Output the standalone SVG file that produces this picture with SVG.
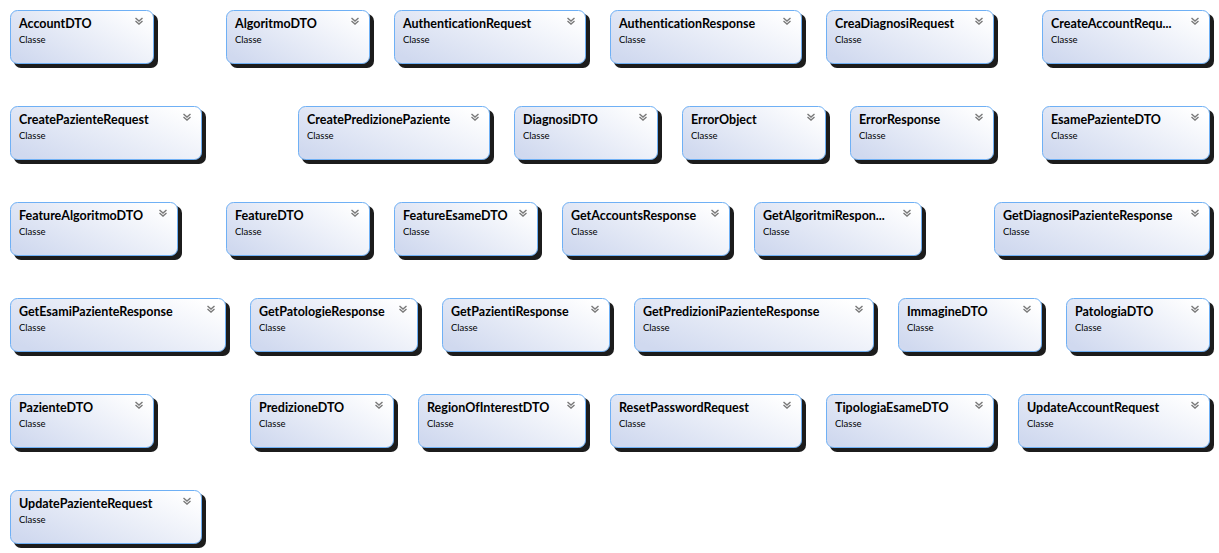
<svg xmlns="http://www.w3.org/2000/svg" xmlns:xlink="http://www.w3.org/1999/xlink" width="1219" height="553" viewBox="0 0 1219 553">
<style>
.sh{fill:#1c1c1c}
.bx{fill:url(#g);stroke:#6fb0f5;stroke-width:1}
.t{font-family:Lato,"Open Sans","DejaVu Sans",sans-serif;font-weight:bold;font-size:12.5px;fill:#000;font-variant-ligatures:none;font-feature-settings:"liga" 0,"dlig" 0}
.s{font-family:Lato,"Open Sans","DejaVu Sans",sans-serif;font-size:9.5px;fill:#000;font-variant-ligatures:none}
.ch{fill:none;stroke:#7a7a7a;stroke-width:1.4}
</style>
<defs>
<linearGradient id="g" x1="0" y1="0.8" x2="1" y2="0.2">
<stop offset="0" stop-color="#d0d9ef"/>
<stop offset="1" stop-color="#ffffff"/>
</linearGradient>
<g id="chev">
<polyline class="ch" points="-3.5,0 0,3 3.5,0"/>
<polyline class="ch" points="-3.5,3 0,6 3.5,3"/>
</g>
</defs>
<rect width="1219" height="553" fill="#ffffff"/>
<g id="connectors"></g>

<!-- Row 1 -->
<g id="AccountDTO" transform="translate(10,10)"><rect class="sh" x="4" y="4" width="144" height="54" rx="7"/><rect class="bx" x="0.5" y="0.5" width="143" height="53" rx="7"/><text class="t" x="9" y="18">AccountDTO</text><text class="s" x="9" y="33">Classe</text><use xlink:href="#chev" x="129" y="8"/></g>
<g id="AlgoritmoDTO" transform="translate(226,10)"><rect class="sh" x="4" y="4" width="144" height="54" rx="7"/><rect class="bx" x="0.5" y="0.5" width="143" height="53" rx="7"/><text class="t" x="9" y="18">AlgoritmoDTO</text><text class="s" x="9" y="33">Classe</text><use xlink:href="#chev" x="129" y="8"/></g>
<g id="AuthenticationRequest" transform="translate(394,10)"><rect class="sh" x="4" y="4" width="192" height="54" rx="7"/><rect class="bx" x="0.5" y="0.5" width="191" height="53" rx="7"/><text class="t" x="9" y="18">AuthenticationRequest</text><text class="s" x="9" y="33">Classe</text><use xlink:href="#chev" x="177" y="8"/></g>
<g id="AuthenticationResponse" transform="translate(610,10)"><rect class="sh" x="4" y="4" width="192" height="54" rx="7"/><rect class="bx" x="0.5" y="0.5" width="191" height="53" rx="7"/><text class="t" x="9" y="18">AuthenticationResponse</text><text class="s" x="9" y="33">Classe</text><use xlink:href="#chev" x="177" y="8"/></g>
<g id="CreaDiagnosiRequest" transform="translate(826,10)"><rect class="sh" x="4" y="4" width="168" height="54" rx="7"/><rect class="bx" x="0.5" y="0.5" width="167" height="53" rx="7"/><text class="t" x="9" y="18">CreaDiagnosiRequest</text><text class="s" x="9" y="33">Classe</text><use xlink:href="#chev" x="153" y="8"/></g>
<g id="CreateAccountRequest" transform="translate(1042,10)"><rect class="sh" x="4" y="4" width="168" height="54" rx="7"/><rect class="bx" x="0.5" y="0.5" width="167" height="53" rx="7"/><text class="t" x="9" y="18">CreateAccountRequ...</text><text class="s" x="9" y="33">Classe</text><use xlink:href="#chev" x="153" y="8"/></g>

<!-- Row 2 -->
<g id="CreatePazienteRequest" transform="translate(10,106)"><rect class="sh" x="4" y="4" width="192" height="54" rx="7"/><rect class="bx" x="0.5" y="0.5" width="191" height="53" rx="7"/><text class="t" x="9" y="18">CreatePazienteRequest</text><text class="s" x="9" y="33">Classe</text><use xlink:href="#chev" x="177" y="8"/></g>
<g id="CreatePredizionePaziente" transform="translate(298,106)"><rect class="sh" x="4" y="4" width="192" height="54" rx="7"/><rect class="bx" x="0.5" y="0.5" width="191" height="53" rx="7"/><text class="t" x="9" y="18">CreatePredizionePaziente</text><text class="s" x="9" y="33">Classe</text><use xlink:href="#chev" x="177" y="8"/></g>
<g id="DiagnosiDTO" transform="translate(514,106)"><rect class="sh" x="4" y="4" width="144" height="54" rx="7"/><rect class="bx" x="0.5" y="0.5" width="143" height="53" rx="7"/><text class="t" x="9" y="18">DiagnosiDTO</text><text class="s" x="9" y="33">Classe</text><use xlink:href="#chev" x="129" y="8"/></g>
<g id="ErrorObject" transform="translate(682,106)"><rect class="sh" x="4" y="4" width="144" height="54" rx="7"/><rect class="bx" x="0.5" y="0.5" width="143" height="53" rx="7"/><text class="t" x="9" y="18">ErrorObject</text><text class="s" x="9" y="33">Classe</text><use xlink:href="#chev" x="129" y="8"/></g>
<g id="ErrorResponse" transform="translate(850,106)"><rect class="sh" x="4" y="4" width="144" height="54" rx="7"/><rect class="bx" x="0.5" y="0.5" width="143" height="53" rx="7"/><text class="t" x="9" y="18">ErrorResponse</text><text class="s" x="9" y="33">Classe</text><use xlink:href="#chev" x="129" y="8"/></g>
<g id="EsamePazienteDTO" transform="translate(1042,106)"><rect class="sh" x="4" y="4" width="168" height="54" rx="7"/><rect class="bx" x="0.5" y="0.5" width="167" height="53" rx="7"/><text class="t" x="9" y="18">EsamePazienteDTO</text><text class="s" x="9" y="33">Classe</text><use xlink:href="#chev" x="153" y="8"/></g>

<!-- Row 3 -->
<g id="FeatureAlgoritmoDTO" transform="translate(10,202)"><rect class="sh" x="4" y="4" width="168" height="54" rx="7"/><rect class="bx" x="0.5" y="0.5" width="167" height="53" rx="7"/><text class="t" x="9" y="18">FeatureAlgoritmoDTO</text><text class="s" x="9" y="33">Classe</text><use xlink:href="#chev" x="153" y="8"/></g>
<g id="FeatureDTO" transform="translate(226,202)"><rect class="sh" x="4" y="4" width="144" height="54" rx="7"/><rect class="bx" x="0.5" y="0.5" width="143" height="53" rx="7"/><text class="t" x="9" y="18">FeatureDTO</text><text class="s" x="9" y="33">Classe</text><use xlink:href="#chev" x="129" y="8"/></g>
<g id="FeatureEsameDTO" transform="translate(394,202)"><rect class="sh" x="4" y="4" width="144" height="54" rx="7"/><rect class="bx" x="0.5" y="0.5" width="143" height="53" rx="7"/><text class="t" x="9" y="18">FeatureEsameDTO</text><text class="s" x="9" y="33">Classe</text><use xlink:href="#chev" x="129" y="8"/></g>
<g id="GetAccountsResponse" transform="translate(562,202)"><rect class="sh" x="4" y="4" width="168" height="54" rx="7"/><rect class="bx" x="0.5" y="0.5" width="167" height="53" rx="7"/><text class="t" x="9" y="18">GetAccountsResponse</text><text class="s" x="9" y="33">Classe</text><use xlink:href="#chev" x="153" y="8"/></g>
<g id="GetAlgoritmiResponse" transform="translate(754,202)"><rect class="sh" x="4" y="4" width="168" height="54" rx="7"/><rect class="bx" x="0.5" y="0.5" width="167" height="53" rx="7"/><text class="t" x="9" y="18">GetAlgoritmiRespon...</text><text class="s" x="9" y="33">Classe</text><use xlink:href="#chev" x="153" y="8"/></g>
<g id="GetDiagnosiPazienteResponse" transform="translate(994,202)"><rect class="sh" x="4" y="4" width="216" height="54" rx="7"/><rect class="bx" x="0.5" y="0.5" width="215" height="53" rx="7"/><text class="t" x="9" y="18">GetDiagnosiPazienteResponse</text><text class="s" x="9" y="33">Classe</text><use xlink:href="#chev" x="201" y="8"/></g>

<!-- Row 4 -->
<g id="GetEsamiPazienteResponse" transform="translate(10,298)"><rect class="sh" x="4" y="4" width="216" height="54" rx="7"/><rect class="bx" x="0.5" y="0.5" width="215" height="53" rx="7"/><text class="t" x="9" y="18">GetEsamiPazienteResponse</text><text class="s" x="9" y="33">Classe</text><use xlink:href="#chev" x="201" y="8"/></g>
<g id="GetPatologieResponse" transform="translate(250,298)"><rect class="sh" x="4" y="4" width="168" height="54" rx="7"/><rect class="bx" x="0.5" y="0.5" width="167" height="53" rx="7"/><text class="t" x="9" y="18">GetPatologieResponse</text><text class="s" x="9" y="33">Classe</text><use xlink:href="#chev" x="153" y="8"/></g>
<g id="GetPazientiResponse" transform="translate(442,298)"><rect class="sh" x="4" y="4" width="168" height="54" rx="7"/><rect class="bx" x="0.5" y="0.5" width="167" height="53" rx="7"/><text class="t" x="9" y="18">GetPazientiResponse</text><text class="s" x="9" y="33">Classe</text><use xlink:href="#chev" x="153" y="8"/></g>
<g id="GetPredizioniPazienteResponse" transform="translate(634,298)"><rect class="sh" x="4" y="4" width="240" height="54" rx="7"/><rect class="bx" x="0.5" y="0.5" width="239" height="53" rx="7"/><text class="t" x="9" y="18">GetPredizioniPazienteResponse</text><text class="s" x="9" y="33">Classe</text><use xlink:href="#chev" x="225" y="8"/></g>
<g id="ImmagineDTO" transform="translate(898,298)"><rect class="sh" x="4" y="4" width="144" height="54" rx="7"/><rect class="bx" x="0.5" y="0.5" width="143" height="53" rx="7"/><text class="t" x="9" y="18">ImmagineDTO</text><text class="s" x="9" y="33">Classe</text><use xlink:href="#chev" x="129" y="8"/></g>
<g id="PatologiaDTO" transform="translate(1066,298)"><rect class="sh" x="4" y="4" width="144" height="54" rx="7"/><rect class="bx" x="0.5" y="0.5" width="143" height="53" rx="7"/><text class="t" x="9" y="18">PatologiaDTO</text><text class="s" x="9" y="33">Classe</text><use xlink:href="#chev" x="129" y="8"/></g>

<!-- Row 5 -->
<g id="PazienteDTO" transform="translate(10,394)"><rect class="sh" x="4" y="4" width="144" height="54" rx="7"/><rect class="bx" x="0.5" y="0.5" width="143" height="53" rx="7"/><text class="t" x="9" y="18">PazienteDTO</text><text class="s" x="9" y="33">Classe</text><use xlink:href="#chev" x="129" y="8"/></g>
<g id="PredizioneDTO" transform="translate(250,394)"><rect class="sh" x="4" y="4" width="144" height="54" rx="7"/><rect class="bx" x="0.5" y="0.5" width="143" height="53" rx="7"/><text class="t" x="9" y="18">PredizioneDTO</text><text class="s" x="9" y="33">Classe</text><use xlink:href="#chev" x="129" y="8"/></g>
<g id="RegionOfInterestDTO" transform="translate(418,394)"><rect class="sh" x="4" y="4" width="168" height="54" rx="7"/><rect class="bx" x="0.5" y="0.5" width="167" height="53" rx="7"/><text class="t" x="9" y="18">RegionOfInterestDTO</text><text class="s" x="9" y="33">Classe</text><use xlink:href="#chev" x="153" y="8"/></g>
<g id="ResetPasswordRequest" transform="translate(610,394)"><rect class="sh" x="4" y="4" width="192" height="54" rx="7"/><rect class="bx" x="0.5" y="0.5" width="191" height="53" rx="7"/><text class="t" x="9" y="18">ResetPasswordRequest</text><text class="s" x="9" y="33">Classe</text><use xlink:href="#chev" x="177" y="8"/></g>
<g id="TipologiaEsameDTO" transform="translate(826,394)"><rect class="sh" x="4" y="4" width="168" height="54" rx="7"/><rect class="bx" x="0.5" y="0.5" width="167" height="53" rx="7"/><text class="t" x="9" y="18">TipologiaEsameDTO</text><text class="s" x="9" y="33">Classe</text><use xlink:href="#chev" x="153" y="8"/></g>
<g id="UpdateAccountRequest" transform="translate(1018,394)"><rect class="sh" x="4" y="4" width="192" height="54" rx="7"/><rect class="bx" x="0.5" y="0.5" width="191" height="53" rx="7"/><text class="t" x="9" y="18">UpdateAccountRequest</text><text class="s" x="9" y="33">Classe</text><use xlink:href="#chev" x="177" y="8"/></g>

<!-- Row 6 -->
<g id="UpdatePazienteRequest" transform="translate(10,490)"><rect class="sh" x="4" y="4" width="192" height="54" rx="7"/><rect class="bx" x="0.5" y="0.5" width="191" height="53" rx="7"/><text class="t" x="9" y="18">UpdatePazienteRequest</text><text class="s" x="9" y="33">Classe</text><use xlink:href="#chev" x="177" y="8"/></g>
</svg>
